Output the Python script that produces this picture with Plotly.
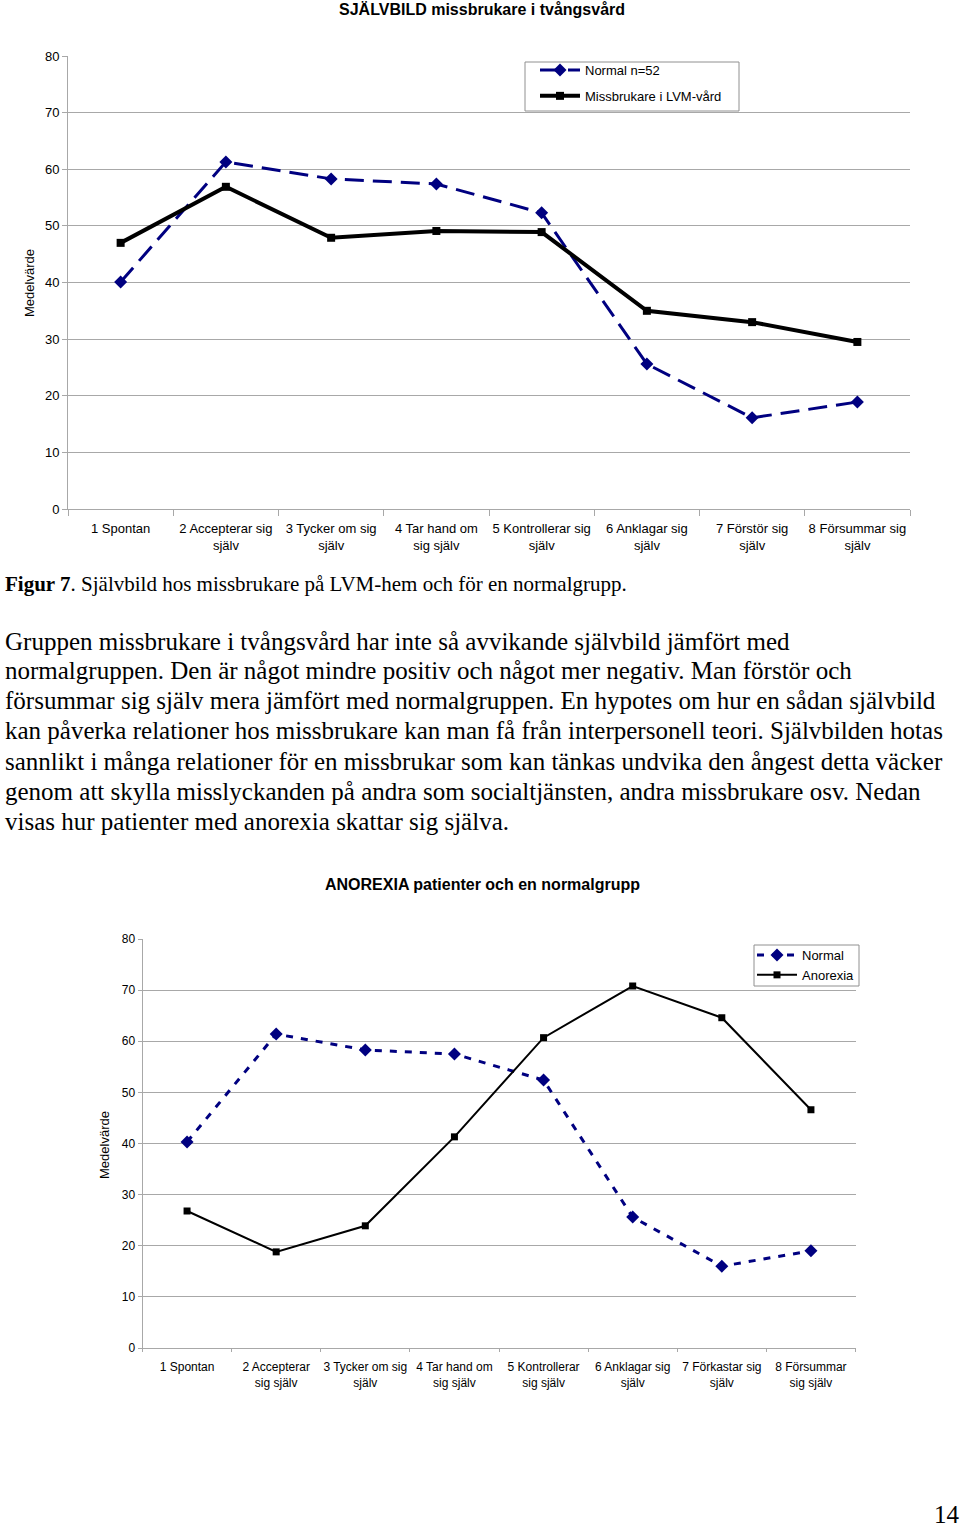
import plotly.graph_objects as go

W, H = 960, 1527

# ---------------- data ----------------
categories1 = ["1 Spontan", "2 Accepterar sig<br>själv", "3 Tycker om sig<br>själv",
               "4 Tar hand om<br>sig själv", "5 Kontrollerar sig<br>själv",
               "6 Anklagar sig<br>själv", "7 Förstör sig<br>själv", "8 Försummar sig<br>själv"]
normal1 = [40.1, 61.3, 58.3, 57.4, 52.3, 25.6, 16.1, 18.9]
missbrukare = [47.0, 56.9, 47.9, 49.1, 48.9, 35.0, 33.0, 29.5]

categories2 = ["1 Spontan", "2 Accepterar<br>sig själv", "3 Tycker om sig<br>själv",
               "4 Tar hand om<br>sig själv", "5 Kontrollerar<br>sig själv",
               "6 Anklagar sig<br>själv", "7 Förkastar sig<br>själv", "8 Försummar<br>sig själv"]
normal2 = [40.3, 61.4, 58.3, 57.5, 52.4, 25.6, 16.0, 19.0]
anorexia = [26.8, 18.8, 23.9, 41.3, 60.7, 70.8, 64.6, 46.6]

y_ticks = [0, 10, 20, 30, 40, 50, 60, 70, 80]

title1 = "SJÄLVBILD missbrukare i tvångsvård"
title2 = "ANOREXIA patienter och en normalgrupp"
caption = "<b>Figur 7</b>. Självbild hos missbrukare på LVM-hem och för en normalgrupp."
body_lines = [
    "Gruppen missbrukare i tvångsvård har inte så avvikande självbild jämfört med",
    "normalgruppen. Den är något mindre positiv och något mer negativ. Man förstör och",
    "försummar sig själv mera jämfört med normalgruppen. En hypotes om hur en sådan självbild",
    "kan påverka relationer hos missbrukare kan man få från interpersonell teori. Självbilden hotas",
    "sannlikt i många relationer för en missbrukar som kan tänkas undvika den ångest detta väcker",
    "genom att skylla misslyckanden på andra som socialtjänsten, andra missbrukare osv. Nedan",
    "visas hur patienter med anorexia skattar sig själva.",
]
page_number = "14"

# ---------------- helpers ----------------
def px(x):
    return x / W

def py(y):
    return 1 - y / H

SANS = "Liberation Sans, Arial, sans-serif"
SERIF = "Liberation Serif, Times New Roman, serif"
NAVY = "#000080"
GRID = "#a8a8a8"

fig = go.Figure()

fig.add_trace(go.Scatter(
    x=categories1, y=normal1, name="Normal n=52", mode="lines+markers",
    line=dict(color=NAVY, width=3, dash="19px,9px"),
    marker=dict(symbol="diamond", size=10, color=NAVY),
    xaxis="x", yaxis="y", legend="legend", legendgroup="a"))
fig.add_trace(go.Scatter(
    x=categories1, y=missbrukare, name="Missbrukare i LVM-vård", mode="lines+markers",
    line=dict(color="black", width=4),
    marker=dict(symbol="square", size=8, color="black"),
    xaxis="x", yaxis="y", legend="legend", legendgroup="b"))

fig.add_trace(go.Scatter(
    x=categories2, y=normal2, name="Normal", mode="lines+markers",
    line=dict(color=NAVY, width=3, dash="7px,8px"),
    marker=dict(symbol="diamond", size=10, color=NAVY),
    xaxis="x2", yaxis="y2", legend="legend2"))
fig.add_trace(go.Scatter(
    x=categories2, y=anorexia, name="Anorexia", mode="lines+markers",
    line=dict(color="black", width=2),
    marker=dict(symbol="square", size=7, color="black"),
    xaxis="x2", yaxis="y2", legend="legend2"))

xcommon = dict(type="category", range=[-0.5, 7.5], showgrid=False, showline=True,
               linecolor=GRID, linewidth=1, ticks="outside", tickson="boundaries",
               tickcolor=GRID, zeroline=False, fixedrange=True,
               tickangle=0, automargin=False)
ycommon = dict(range=[0, 80], tickvals=y_ticks, showgrid=True, gridcolor=GRID,
               gridwidth=1, showline=True, linecolor=GRID, linewidth=1,
               ticks="outside", tickcolor=GRID, zeroline=False,
               automargin=False)

fig.update_layout(
    template="none",
    width=W, height=H, autosize=False,
    margin=dict(l=0, r=0, t=0, b=0, pad=0),
    paper_bgcolor="white", plot_bgcolor="white",
    font=dict(family=SANS, color="black"),
    xaxis=dict(domain=[px(68), px(910)], anchor="y", ticklen=6, ticklabelstandoff=7,
               tickfont=dict(size=13, family=SANS, color="black"), **xcommon),
    yaxis=dict(domain=[py(509), py(56)], anchor="x", ticklen=5,
               tickfont=dict(size=13, family=SANS, color="black"), **ycommon),
    xaxis2=dict(domain=[px(142.5), px(855.5)], anchor="y2", ticklen=3, ticklabelstandoff=8,
                tickfont=dict(size=12, family=SANS, color="black"), **xcommon),
    yaxis2=dict(domain=[py(1348), py(939)], anchor="x2", ticklen=4,
                tickfont=dict(size=12, family=SANS, color="black"), **ycommon),
    legend=dict(x=px(535), y=py(55), xanchor="left", yanchor="top",
                bgcolor="rgba(0,0,0,0)", borderwidth=0, itemwidth=40,
                font=dict(size=13, family=SANS, color="black"), tracegroupgap=6),
    legend2=dict(x=px(752), y=py(940), xanchor="left", yanchor="top",
                 bgcolor="rgba(0,0,0,0)", borderwidth=0, itemwidth=40,
                 font=dict(size=13, family=SANS, color="black"), tracegroupgap=0),
    shapes=[
        dict(type="rect", xref="paper", yref="paper", layer="below",
             x0=px(525), x1=px(739), y0=py(111), y1=py(62),
             line=dict(color="#909090", width=1), fillcolor="white"),
        dict(type="rect", xref="paper", yref="paper", layer="below",
             x0=px(754), x1=px(859), y0=py(986), y1=py(945),
             line=dict(color="#909090", width=1), fillcolor="white"),
    ],
)

ann = []
ann.append(dict(text=f"<b>{title1}</b>", x=px(482), y=py(9), font=dict(size=16, family=SANS)))
ann.append(dict(text=f"<b>{title2}</b>", x=px(482), y=py(884), font=dict(size=16, family=SANS)))
ann.append(dict(text="Medelvärde", x=px(30), y=py(283), textangle=-90, font=dict(size=13, family=SANS)))
ann.append(dict(text="Medelvärde", x=px(104), y=py(1145), textangle=-90, font=dict(size=13, family=SANS)))
ann.append(dict(text=caption, x=px(3), y=py(584), xanchor="left", font=dict(size=21, family=SERIF)))
for i, line in enumerate(body_lines):
    ann.append(dict(text=line, x=px(3), y=py(641 + 30 * i), xanchor="left",
                    font=dict(size=25, family=SERIF)))
ann.append(dict(text=page_number, x=px(947), y=py(1514), font=dict(size=25, family=SERIF)))

for a in ann:
    a.setdefault("xanchor", "center")
    a["font"]["color"] = "black"
    a.update(xref="paper", yref="paper", yanchor="middle", showarrow=False)
fig.update_layout(annotations=ann)

# remove the browser's default 8px page margin so the figure fills the window
fig.write_html("out.html",
               config={"displayModeBar": False, "staticPlot": True},
               post_script="document.body.style.margin='0';"
                           "document.body.style.overflow='hidden';")
